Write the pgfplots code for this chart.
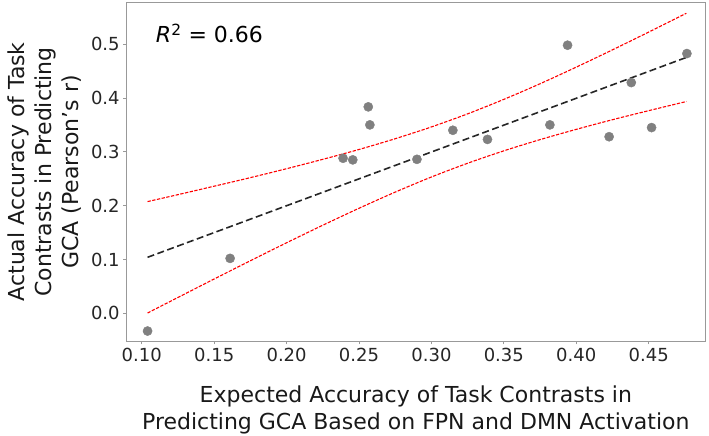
\documentclass[border=0pt]{standalone}
\usepackage{pgfplots}
\pgfplotsset{compat=1.18}
\usepackage{fontspec}
\setmainfont{DejaVu Sans}

\begin{document}
\begin{tikzpicture}
\path[use as bounding box] (0,0) rectangle (709pt,436pt);
\begin{axis}[
  at={(126.7pt,95pt)}, anchor=south west,
  scale only axis,
  width=578.3pt, height=338.3pt,
  xmin=0.0896, xmax=0.4889,
  ymin=-0.0515, ymax=0.577,
  xtick={0.10,0.15,0.20,0.25,0.30,0.35,0.40,0.45},
  ytick={0.0,0.1,0.2,0.3,0.4,0.5},
  x tick label style={/pgf/number format/.cd, fixed, fixed zerofill, precision=2},
  y tick label style={/pgf/number format/.cd, fixed, fixed zerofill, precision=1},
  /pgf/number format/assume math mode=true,
  tick label style={font=\fontsize{18}{20}\selectfont, black!85},
  tick align=outside, tick pos=left,
  major tick length=3.5pt,
  every tick/.style={black!40, line width=0.8pt},
  axis line style={black!40, line width=0.8pt},
  scaled ticks=false,
  xlabel={Expected Accuracy of Task Contrasts in\\Predicting GCA Based on FPN and DMN Activation},
  ylabel={Actual Accuracy of Task\\Contrasts in Predicting\\GCA (Pearson’s r)},
  label style={font=\fontsize{22}{27}\selectfont, align=center, black!90},
  xlabel style={at={(axis description cs:0.5,0)}, anchor=north, inner sep=0pt, yshift=-45pt},
  ylabel style={at={(axis description cs:-0.1418,0.5)}, anchor=center, inner sep=0pt},
  clip=false,
]
% observed accuracies
\addplot[only marks, mark=*, mark size=4.6pt, color=gray, mark options={draw=gray, fill=gray}] coordinates {
  (0.104,-0.033) (0.161,0.102) (0.239,0.288) (0.2457,0.285) (0.2564,0.3835)
  (0.2575,0.350) (0.290,0.286) (0.3148,0.340) (0.3387,0.323) (0.3818,0.350)
  (0.394,0.498) (0.4227,0.328) (0.438,0.4286) (0.452,0.345) (0.4764,0.4825)
};
% regression fit
\addplot[black!85, line width=1.6pt, dash pattern=on 7pt off 3.5pt] coordinates {
  (0.104,0.1040) (0.4764,0.4757)
};
% confidence band
\addplot[red, line width=1.1pt, dash pattern=on 3.3pt off 1.5pt, smooth] coordinates {
  (0.104,0.2075) (0.125,0.2204) (0.15,0.2361) (0.175,0.2520) (0.2,0.2686)
  (0.225,0.2860) (0.25,0.3043) (0.275,0.3243) (0.3,0.3462) (0.325,0.3705)
  (0.35,0.3974) (0.375,0.4264) (0.4,0.4573) (0.425,0.4894) (0.45,0.5224) (0.476,0.5574)
};
\addplot[red, line width=1.1pt, dash pattern=on 3.3pt off 1.5pt, smooth] coordinates {
  (0.104,0.0005) (0.125,0.0294) (0.15,0.0637) (0.175,0.0976) (0.2,0.1310)
  (0.225,0.1636) (0.25,0.1951) (0.275,0.2251) (0.3,0.2532) (0.325,0.2787)
  (0.35,0.3018) (0.375,0.3226) (0.4,0.3417) (0.425,0.3596) (0.45,0.3764) (0.476,0.3934)
};
\node[anchor=base west, inner sep=0pt, font=\fontsize{22}{24}\selectfont]
  at (axis description cs:0.0503,0.8818) {\textit{R}\textsuperscript{2} = 0.66};
\end{axis}
\end{tikzpicture}
\end{document}
